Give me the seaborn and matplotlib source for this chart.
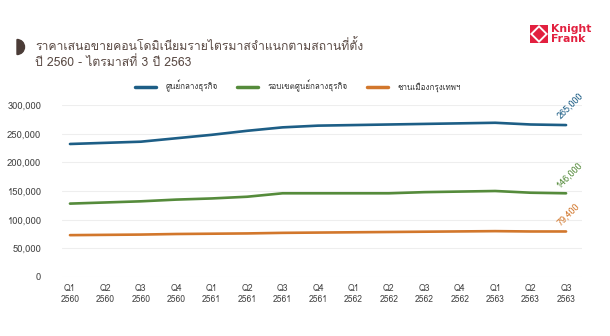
import numpy as np
import pandas as pd
import matplotlib
matplotlib.use("Agg")
import matplotlib.pyplot as plt
from matplotlib import font_manager
from matplotlib.ft2font import FT2Font
from matplotlib.patches import Wedge, Polygon
from matplotlib.lines import Line2D
import seaborn as sns

# ---- data -------------------------------------------------------------
quarters = ["Q1\n2560", "Q2\n2560", "Q3\n2560", "Q4\n2560",
            "Q1\n2561", "Q2\n2561", "Q3\n2561", "Q4\n2561",
            "Q1\n2562", "Q2\n2562", "Q3\n2562", "Q4\n2562",
            "Q1\n2563", "Q2\n2563", "Q3\n2563"]
cbd = [232000, 234000, 236000, 242000, 248000, 255000, 261000, 264000,
       265000, 266000, 267000, 268000, 269000, 266000, 265000]
cbd_fringe = [128000, 130000, 132000, 135000, 137000, 140000, 146000, 146000,
              146000, 146000, 148000, 149000, 150000, 147000, 146000]
suburbs = [73000, 73500, 74000, 75000, 75500, 76000, 77000, 77500,
           78000, 78500, 79000, 79500, 80000, 79400, 79400]
series_names = ["ศูนย์กลางธุรกิจ", "รอบเขตศูนย์กลางธุรกิจ", "ชานเมืองกรุงเทพฯ"]
colors = ["#1d5e86", "#558b3b", "#d2772c"]
yticks = [0, 50000, 100000, 150000, 200000, 250000, 300000]
title = "ราคาเสนอขายคอนโดมิเนียมรายไตรมาสจำแนกตามสถานที่ตั้ง\nปี 2560 - ไตรมาสที่ 3 ปี 2563"


# ---- fonts: pick a family that covers Thai ---------------------------
def thai_family():
    seen = set()
    for f in font_manager.fontManager.ttflist:
        if f.name in seen:
            continue
        seen.add(f.name)
        try:
            cmap = FT2Font(f.fname).get_charmap()
        except Exception:
            continue
        if 0x0E01 in cmap and 0x0E2A in cmap:
            return f.name
    return None


sns.set_theme(style="white")
fam = thai_family()
families = ([fam] if fam else []) + ["DejaVu Sans"]
plt.rcParams["font.family"] = families

df = pd.DataFrame({
    "x": list(range(len(quarters))) * 3,
    "value": cbd + cbd_fringe + suburbs,
    "series": sum([[n] * len(quarters) for n in series_names], []),
})

W, H = 610, 336
fig = plt.figure(figsize=(W / 100, H / 100), dpi=100)
ax = fig.add_axes([62 / W, 59 / H, 520 / W, 172 / H])

sns.lineplot(data=df, x="x", y="value", hue="series", hue_order=series_names,
             palette=colors, linewidth=1.9, ax=ax, legend=False)

ax.set_xlim(-0.225, 14.45)
ax.set_ylim(0, 300000)
ax.set_yticks(yticks)
ax.set_yticklabels([f"{v:,}" for v in yticks], fontsize=6.8, color="#444444")
ax.set_xticks(range(len(quarters)))
ax.set_xticklabels(quarters, fontsize=6.2, color="#444444", linespacing=1.3)
ax.tick_params(axis="y", length=0, pad=15)
ax.tick_params(axis="x", length=0, pad=5)
ax.set_xlabel("")
ax.set_ylabel("")
ax.grid(axis="y", color="#eeeeee", linewidth=0.8)
ax.grid(axis="x", visible=False)
for s in ax.spines.values():
    s.set_visible(False)

# end-of-line value labels
for vals, c in zip([cbd, cbd_fringe, suburbs], colors):
    ax.annotate(f"{vals[-1]:,}", (len(vals) - 1, vals[-1]),
                xytext=(-3, 3), textcoords="offset points",
                rotation=45, rotation_mode="anchor", ha="left", va="bottom",
                fontsize=6.5, color=c)

# legend
handles = [Line2D([0], [0], color=c, lw=2.5) for c in colors]
fig.legend(handles, series_names, loc="center", bbox_to_anchor=(298 / W, 1 - 86 / H),
           ncol=3, frameon=False, fontsize=5.8, handlelength=2.6,
           columnspacing=2.4, handletextpad=1.2, labelcolor="#333333")

# title with half-disc marker
fig.text(35 / W, 1 - 39 / H, title, fontsize=8.8, color="#5a4a44",
         ha="left", va="top", linespacing=1.3)
fig.patches.append(Wedge((17, H - 47), 7.5, -90, 90, transform=None,
                         color="#4b3c37"))


# brand mark
def px_poly(pts, color):
    fig.patches.append(Polygon([(x / W, 1 - y / H) for x, y in pts], closed=True,
                               transform=fig.transFigure, color=color, lw=0))


red = "#e2203f"
cx, cy, s = 539, 34, 9
px_poly([(cx - s, cy - s), (cx + s, cy - s), (cx + s, cy + s), (cx - s, cy + s)], red)
px_poly([(cx, cy - s), (cx + s, cy), (cx, cy + s), (cx - s, cy)], "white")
px_poly([(cx, cy - 6.3), (cx + 6.3, cy), (cx, cy + 6.3), (cx - 6.3, cy)], red)
fig.text(551 / W, 1 - 34 / H, "Knight\nFrank", fontsize=7.8, color=red,
         fontweight="bold", ha="left", va="center", linespacing=1.05,
         family="DejaVu Sans")

fig.savefig("out.png", dpi=100, facecolor="white")
